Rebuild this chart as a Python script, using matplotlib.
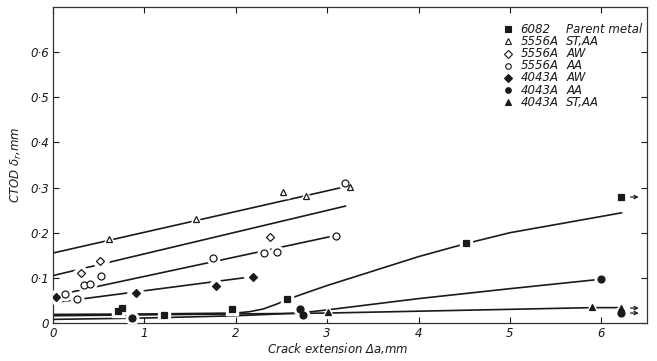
import matplotlib
matplotlib.use("Agg")
import matplotlib.pyplot as plt
from matplotlib.ticker import FixedLocator

plt.rcParams['font.family'] = ['DejaVu Sans']
plt.rcParams['font.style'] = 'italic'

# measured points (crack extension mm, CTOD mm)
sq_x = [0.71, 0.76, 1.21, 1.96, 2.56, 4.52, 6.22]
sq_y = [0.027, 0.033, 0.018, 0.031, 0.054, 0.178, 0.279]
otri_x = [0.61, 1.56, 2.52, 2.77, 3.25]
otri_y = [0.185, 0.230, 0.290, 0.282, 0.301]
odia_x = [0.31, 0.51, 2.37]
odia_y = [0.110, 0.138, 0.190]
ocir_x = [0.13, 0.26, 0.34, 0.41, 0.52, 1.75, 2.31, 2.45, 3.10, 3.19]
ocir_y = [0.064, 0.053, 0.084, 0.087, 0.105, 0.144, 0.156, 0.158, 0.192, 0.310]
fdia_x = [0.03, 0.91, 1.78, 2.19]
fdia_y = [0.058, 0.067, 0.081, 0.102]
fcir_x = [0.86, 2.70, 2.74, 6.00, 6.22]
fcir_y = [0.012, 0.030, 0.018, 0.098, 0.022]
ftri_x = [3.01, 5.90, 6.22]
ftri_y = [0.025, 0.036, 0.033]

# fitted curves
fit_otri_x = [0.0, 3.2]
fit_otri_y = [0.155, 0.302]
fit_odia_x = [0.0, 3.2]
fit_odia_y = [0.105, 0.259]
fit_ocir_x = [0.05, 3.05]
fit_ocir_y = [0.062, 0.192]
fit_fdia_x = [0.0, 2.2]
fit_fdia_y = [0.045, 0.103]
fit_sq_x = [0.0, 1.0, 2.0, 2.15, 2.3, 2.45, 2.56, 2.8, 3.0, 3.5, 4.0, 4.52, 5.0, 5.5, 6.22]
fit_sq_y = [0.019, 0.020, 0.022, 0.025, 0.031, 0.042, 0.052, 0.069, 0.083, 0.115, 0.147,
            0.176, 0.200, 0.218, 0.244]
fit_fcir_x = [0.0, 1.0, 2.0, 2.7, 3.0, 4.0, 5.0, 6.0]
fit_fcir_y = [0.008, 0.011, 0.016, 0.022, 0.029, 0.054, 0.076, 0.097]
fit_ftri_x = [0.0, 3.0, 5.9, 6.22]
fit_ftri_y = [0.016, 0.022, 0.034, 0.034]

codes = ['6082', '5556A', '5556A', '5556A', '4043A', '4043A', '4043A']
conds = ['Parent metal', 'ST,AA', 'AW', 'AA', 'AW', 'AA', 'ST,AA']

ink = '#1a1a1a'
series = [
    (sq_x, sq_y, 's', ink, fit_sq_x, fit_sq_y),
    (otri_x, otri_y, '^', 'white', fit_otri_x, fit_otri_y),
    (odia_x, odia_y, 'D', 'white', fit_odia_x, fit_odia_y),
    (ocir_x, ocir_y, 'o', 'white', fit_ocir_x, fit_ocir_y),
    (fdia_x, fdia_y, 'D', ink, fit_fdia_x, fit_fdia_y),
    (fcir_x, fcir_y, 'o', ink, fit_fcir_x, fit_fcir_y),
    (ftri_x, ftri_y, '^', ink, fit_ftri_x, fit_ftri_y),
]

fig = plt.figure(figsize=(6.57, 3.61), dpi=100)
ax = fig.add_axes([0.0807, 0.1053, 0.9041, 0.8753])

for xs, ys, m, fc, fx, fy in series:
    ax.plot(fx, fy, color=ink, lw=1.2, zorder=2)
    # white halo so the lines break around each point
    ax.plot(xs, ys, ls='none', marker=m, ms=9, mfc='white', mec='white', zorder=3)
    ax.plot(xs, ys, ls='none', marker=m, ms=5 if m != 'D' else 4.5,
            mfc=fc, mec=ink, mew=0.9, zorder=4)
    # run-out arrows for the last specimens
    for x, y in zip(xs, ys):
        if x > 6.1:
            ax.annotate('', xy=(x + 0.22, y), xytext=(x + 0.07, y),
                        arrowprops=dict(arrowstyle='->', color=ink, lw=0.9,
                                        mutation_scale=6), zorder=4)

ax.set_xlim(0, 6.5)
ax.set_ylim(0, 0.7)
yt = [0, 0.1, 0.2, 0.3, 0.4, 0.5, 0.6]
ax.yaxis.set_major_locator(FixedLocator(yt))
ax.set_yticklabels(['0'] + ['0·%d' % int(round(v * 10)) for v in yt[1:]])
ax.set_xticks(range(7))
ax.set_xticklabels([str(i) for i in range(7)])
ax.tick_params(direction='in', length=4, width=0.8, top=True, right=True,
               labelsize=8.5, colors=ink, pad=3)
for s in ax.spines.values():
    s.set_linewidth(0.9)
    s.set_color('#333333')

ax.set_xlabel('Crack extension $\\mathit{\\Delta a}$,mm', fontsize=8.5, color=ink)
ax.xaxis.set_label_coords(0.48, -0.058)
ax.set_ylabel('CTOD $\\mathit{\\delta_r}$,mm', fontsize=8.5, color=ink)
ax.yaxis.set_label_coords(-0.049, 0.5)

# key in the upper right corner
y0 = 0.930
dy = 0.0386
mk = [s[2] for s in series]
mf = [s[3] for s in series]
for i in range(len(codes)):
    yy = y0 - i * dy
    ax.plot([0.766], [yy], transform=ax.transAxes, ls='none', marker=mk[i],
            ms=4 if mk[i] != 'D' else 3.6, mfc=mf[i], mec=ink, mew=0.8, clip_on=False)
    ax.text(0.787, yy, codes[i], transform=ax.transAxes, fontsize=8.5,
            va='center', ha='left', color=ink)
    ax.text(0.864, yy, conds[i], transform=ax.transAxes, fontsize=8.5,
            va='center', ha='left', color=ink)

fig.savefig('out.png', dpi=100)
